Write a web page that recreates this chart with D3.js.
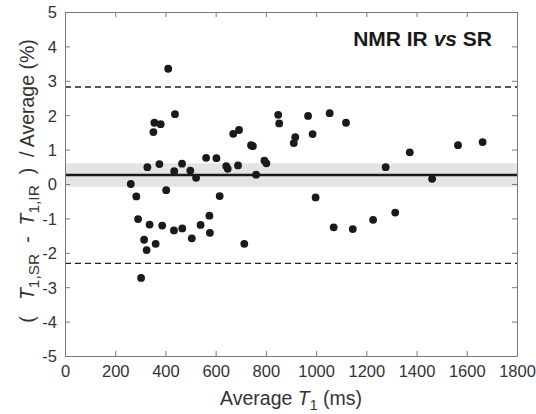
<!DOCTYPE html>
<html><head><meta charset="utf-8">
<script src="https://cdn.jsdelivr.net/npm/d3@7"></script>
<style>body{margin:0;background:#fff}svg{display:block;font-family:"Liberation Sans",Arial,Helvetica,sans-serif}</style>
</head><body><svg id="c" width="536" height="414"></svg>
<script>
// Data
const avgT1 = [411,438,356,381,352,328,376,435,466,499,522,562,603,642,648,689,670,693,741,748,761,794,802,849,853,911,917,
  262,284,291,337,387,434,467,540,575,577,505,403,616,315,361,325,714,303,
  968,986,1054,1119,998,1070,1146,1227,1315,1277,1373,1462,1565,1663];
const pctDiff = [3.35,2.03,1.78,1.74,1.51,0.49,0.58,0.37,0.59,0.39,0.18,0.76,0.75,0.52,0.44,0.54,1.46,1.57,1.13,1.10,0.27,0.68,0.60,2.01,1.76,1.19,1.36,
  0.00,-0.36,-1.02,-1.18,-1.21,-1.35,-1.29,-1.19,-0.92,-1.42,-1.58,-0.18,-0.35,-1.62,-1.74,-1.92,-1.74,-2.73,
  1.98,1.45,2.06,1.78,-0.39,-1.26,-1.31,-1.04,-0.83,0.49,0.92,0.15,1.13,1.22];
const xTicks = [0,200,400,600,800,1000,1200,1400,1600,1800];
const yTicks = [-5,-4,-3,-2,-1,0,1,2,3,4,5];
const meanBias = 0.26;
const meanCI = [-0.08, 0.60];
const limitsOfAgreement = [-2.31, 2.82];

const svg = d3.select("#c");
const L = 65, R = 517, T = 12, B = 356;
const x = d3.scaleLinear().domain([0,1800]).range([L,R]);
const y = d3.scaleLinear().domain([-5,5]).range([B,T]);
const frame = "#7a7a7a", txt = "#333";
const fmt = d => String(d);

// CI band
svg.append("rect").attr("x",L).attr("width",R-L)
  .attr("y",y(meanCI[1])).attr("height",y(meanCI[0])-y(meanCI[1])).attr("fill","#e4e4e4");
// limits of agreement
limitsOfAgreement.forEach(v=>{
  svg.append("line").attr("x1",L).attr("x2",R).attr("y1",y(v)).attr("y2",y(v))
    .attr("stroke","#222").attr("stroke-width",1.3).attr("stroke-dasharray","6,4");
});
// mean line
svg.append("line").attr("x1",L).attr("x2",R).attr("y1",y(meanBias)).attr("y2",y(meanBias))
  .attr("stroke","#1a1a1a").attr("stroke-width",2.6);

// axes
const ax = svg.append("g").attr("transform",`translate(0,${B})`)
  .call(d3.axisBottom(x).tickValues(xTicks).tickFormat(fmt).tickSizeInner(-5).tickSizeOuter(0).tickPadding(8));
const axT = svg.append("g").attr("transform",`translate(0,${T})`)
  .call(d3.axisTop(x).tickValues(xTicks).tickSizeInner(-5).tickSizeOuter(0).tickFormat(""));
const ay = svg.append("g").attr("transform",`translate(${L},0)`)
  .call(d3.axisLeft(y).tickValues(yTicks).tickFormat(fmt).tickSizeInner(-5).tickSizeOuter(0).tickPadding(8));
const ayR = svg.append("g").attr("transform",`translate(${R},0)`)
  .call(d3.axisRight(y).tickValues(yTicks).tickSizeInner(-5).tickSizeOuter(0).tickFormat(""));
[ax,axT,ay,ayR].forEach(g=>{
  g.select(".domain").attr("stroke",frame);
  g.selectAll(".tick line").attr("stroke",frame);
  g.selectAll("text").attr("fill",txt).attr("font-size",16.5).attr("font-family","Liberation Sans, Arial, sans-serif");
});
ay.selectAll("text").attr("dy","0.36em");
ax.selectAll("text").attr("dy","0.78em");

// points
svg.append("g").selectAll("circle").data(avgT1.map((d,i)=>[d,pctDiff[i]])).join("circle")
  .attr("cx",d=>x(d[0])).attr("cy",d=>y(d[1])).attr("r",3.9).attr("fill","#1a1a1a");

// title
const tt = svg.append("text").attr("x",492).attr("y",46).attr("text-anchor","end")
  .attr("font-size",21).attr("font-weight","bold").attr("fill","#1a1a1a");
tt.append("tspan").text("NMR IR ");
tt.append("tspan").attr("font-style","italic").text("vs");
tt.append("tspan").text(" SR");

// x label
const xl = svg.append("text").attr("x",(L+R)/2).attr("y",405).attr("text-anchor","middle")
  .attr("font-size",19.5).attr("fill",txt);
xl.append("tspan").text("Average ");
xl.append("tspan").attr("font-style","italic").text("T");
xl.append("tspan").attr("font-size",14).attr("dy",5).text("1");
xl.append("tspan").attr("dy",-5).text(" (ms)");

// y label
const yl = svg.append("text").attr("transform","translate(34,181) rotate(-90)")
  .attr("text-anchor","middle").attr("font-size",19.5).attr("fill",txt).attr("xml:space","preserve");
yl.append("tspan").text("(   ");
yl.append("tspan").attr("font-style","italic").text("T");
yl.append("tspan").attr("font-size",15.5).attr("dy",5).text("1,SR");
yl.append("tspan").attr("dy",-5).text("  -  ");
yl.append("tspan").attr("font-style","italic").text("T");
yl.append("tspan").attr("font-size",15.5).attr("dy",5).text("1,IR");
yl.append("tspan").attr("dy",-5).text("  )  / Average (%)");
</script></body></html>
